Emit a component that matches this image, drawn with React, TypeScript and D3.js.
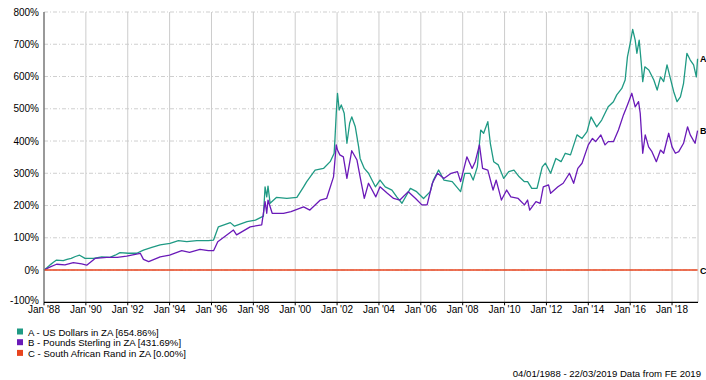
import React from "react";
import * as d3 from "d3";

const yTicks = [-100, 0, 100, 200, 300, 400, 500, 600, 700, 800];
const xTickYears = [1988, 1990, 1992, 1994, 1996, 1998, 2000, 2002, 2004, 2006, 2008, 2010, 2012, 2014, 2016, 2018];
const xTickLabels = ["Jan '88", "Jan '90", "Jan '92", "Jan '94", "Jan '96", "Jan '98", "Jan '00", "Jan '02", "Jan '04", "Jan '06", "Jan '08", "Jan '10", "Jan '12", "Jan '14", "Jan '16", "Jan '18"];

const seriesNames = ["A - US Dollars in ZA [654.86%]", "B - Pounds Sterling in ZA [431.69%]", "C - South African Rand in ZA [0.00%]"];
const seriesTags = ["A", "B", "C"];
const seriesColors = ["#1f9a84", "#6a1ab8", "#e8441e"];

// [decimal year, % growth]
const usdPoints: [number, number][] = [
  [1988.0, 0], [1988.15, 8], [1988.29, 16], [1988.45, 24], [1988.6, 31], [1988.92, 29],
  [1989.1, 33], [1989.3, 36], [1989.5, 42], [1989.7, 46], [1989.96, 36], [1990.36, 36],
  [1990.76, 41], [1991.15, 39], [1991.4, 46], [1991.63, 54], [1992.03, 52], [1992.43, 52],
  [1992.75, 62], [1993.15, 70], [1993.55, 78], [1994.02, 83], [1994.42, 91], [1994.82, 88],
  [1995.3, 91], [1995.85, 91], [1996.1, 93], [1996.33, 134], [1996.9, 147], [1997.1, 136],
  [1997.7, 150], [1998.1, 155], [1998.48, 167], [1998.56, 258], [1998.64, 227], [1998.7, 260],
  [1998.8, 207], [1999.1, 225], [1999.6, 222], [2000.08, 225], [2000.4, 258], [2000.55, 274],
  [2000.95, 310], [2001.35, 315], [2001.67, 336], [2001.86, 362], [2001.9, 408], [2001.96, 486],
  [2002.02, 548], [2002.1, 496], [2002.2, 512], [2002.34, 486], [2002.47, 393], [2002.6, 455],
  [2002.7, 475], [2002.87, 444], [2003.03, 382], [2003.1, 346], [2003.3, 315], [2003.5, 300],
  [2003.83, 258], [2004.05, 279], [2004.3, 258], [2004.62, 248], [2004.85, 227], [2005.1, 207],
  [2005.5, 253], [2005.8, 243], [2006.13, 222], [2006.45, 243], [2006.6, 279], [2006.85, 310],
  [2007.1, 279], [2007.5, 274], [2007.9, 243], [2008.1, 300], [2008.35, 300], [2008.5, 279],
  [2008.7, 320], [2008.86, 434], [2009.0, 424], [2009.2, 460], [2009.32, 393], [2009.48, 336],
  [2009.7, 326], [2009.96, 284], [2010.2, 305], [2010.45, 310], [2010.7, 289], [2010.95, 274],
  [2011.1, 274], [2011.3, 253], [2011.55, 253], [2011.8, 320], [2011.95, 331], [2012.2, 300],
  [2012.45, 346], [2012.7, 336], [2012.9, 362], [2013.15, 357], [2013.46, 419], [2013.7, 408],
  [2013.94, 429], [2014.13, 475], [2014.4, 444], [2014.64, 465], [2014.95, 506], [2015.2, 522],
  [2015.36, 543], [2015.6, 563], [2015.76, 589], [2015.87, 661], [2016.0, 703], [2016.12, 746],
  [2016.24, 713], [2016.32, 672], [2016.43, 713], [2016.53, 641], [2016.6, 584], [2016.7, 630],
  [2016.89, 620], [2017.13, 589], [2017.29, 558], [2017.45, 599], [2017.6, 584], [2017.76, 636],
  [2017.92, 594], [2018.08, 553], [2018.24, 522], [2018.4, 537], [2018.55, 579], [2018.71, 672],
  [2018.87, 651], [2019.03, 636], [2019.16, 599], [2019.22, 655],
];

const gbpPoints: [number, number][] = [
  [1988.0, 0], [1988.3, 10], [1988.6, 18], [1989.0, 16], [1989.4, 23], [1989.8, 19],
  [1990.04, 15], [1990.44, 36], [1991.0, 39], [1991.5, 39], [1991.95, 43], [1992.3, 48],
  [1992.6, 52], [1992.75, 33], [1993.0, 26], [1993.55, 41], [1994.0, 46], [1994.58, 60],
  [1994.95, 55], [1995.45, 64], [1995.85, 60], [1996.1, 60], [1996.3, 88], [1997.05, 124],
  [1997.2, 109], [1997.85, 134], [1998.4, 140], [1998.56, 212], [1998.64, 176], [1998.7, 217],
  [1998.9, 176], [1999.44, 176], [1999.8, 181], [2000.4, 196], [2000.7, 186], [2001.2, 217],
  [2001.5, 222], [2001.83, 289], [2001.96, 388], [2002.02, 372], [2002.13, 357], [2002.3, 351],
  [2002.47, 284], [2002.7, 370], [2002.95, 341], [2003.1, 289], [2003.3, 222], [2003.5, 269],
  [2003.85, 227], [2004.05, 258], [2004.4, 238], [2004.7, 222], [2005.0, 217], [2005.4, 243],
  [2005.75, 222], [2006.05, 202], [2006.3, 202], [2006.55, 269], [2006.8, 300], [2007.1, 284],
  [2007.45, 300], [2007.75, 305], [2007.9, 274], [2008.2, 351], [2008.45, 315], [2008.6, 336],
  [2008.8, 388], [2008.95, 315], [2009.2, 310], [2009.45, 248], [2009.6, 279], [2009.85, 217],
  [2010.1, 248], [2010.3, 227], [2010.65, 222], [2010.95, 202], [2011.1, 217], [2011.2, 186],
  [2011.5, 212], [2011.7, 207], [2011.85, 258], [2012.1, 264], [2012.2, 238], [2012.55, 258],
  [2012.8, 269], [2013.1, 300], [2013.3, 269], [2013.5, 315], [2013.7, 331], [2014.0, 388],
  [2014.2, 408], [2014.35, 398], [2014.6, 419], [2014.8, 388], [2014.95, 398], [2015.2, 398],
  [2015.44, 434], [2015.68, 481], [2015.87, 512], [2016.08, 548], [2016.24, 506], [2016.4, 522],
  [2016.48, 486], [2016.6, 362], [2016.72, 419], [2016.88, 382], [2017.04, 367], [2017.25, 336],
  [2017.45, 372], [2017.6, 362], [2017.84, 424], [2018.0, 382], [2018.16, 362], [2018.32, 367],
  [2018.55, 393], [2018.74, 444], [2018.87, 419], [2019.1, 393], [2019.22, 432],
];

const zarPoints: [number, number][] = [
  [1988.0, 0], [2019.22, 0],
];

const footerText = "04/01/1988 - 22/03/2019 Data from FE 2019";

export default function App() {
  const W = 706, H = 380;
  const left = 44, right = 698, top = 12, bottom = 302.3;
  const x = d3.scaleLinear().domain([1988, 2019.24]).range([left, right]);
  const y = d3.scaleLinear().domain([-100, 800]).range([bottom, top]);
  const line = d3.line<[number, number]>().x(d => x(d[0])).y(d => y(d[1]));
  const series = [usdPoints, gbpPoints, zarPoints];
  const font = "'Liberation Sans', Arial, sans-serif";

  return (
    <svg width={W} height={H} style={{ position: "absolute", left: 0, top: 0, background: "#fff" }} fontFamily={font}>
      {/* horizontal dashed grid */}
      {yTicks.filter(t => t !== -100).map(t => (
        <line key={"h" + t} x1={left} x2={right} y1={y(t)} y2={y(t)} stroke="#cfcfcf" strokeWidth={1} strokeDasharray="4,2,1,2" />
      ))}
      {/* vertical grid */}
      {xTickYears.filter(t => t !== 1988).map(t => (
        <line key={"v" + t} x1={x(t)} x2={x(t)} y1={top} y2={bottom} stroke="#cccccc" strokeWidth={1} />
      ))}
      <line x1={right} x2={right} y1={top} y2={bottom} stroke="#cccccc" strokeWidth={1} />
      {/* series */}
      {series.map((s, i) => (
        <path key={"s" + i} d={line(s) || ""} fill="none" stroke={seriesColors[i]} strokeWidth={i === 2 ? 1.5 : 1.3} strokeLinejoin="round" />
      ))}
      {/* axes */}
      <line x1={left} x2={left} y1={top} y2={bottom} stroke="#777" strokeWidth={1.5} />
      <line x1={left} x2={right} y1={bottom} y2={bottom} stroke="#000" strokeWidth={1.2} />
      {xTickYears.map(t => (
        <line key={"xt" + t} x1={x(t)} x2={x(t)} y1={bottom} y2={bottom + 3} stroke="#000" strokeWidth={1} />
      ))}
      {/* y labels */}
      {yTicks.map(t => (
        <text key={"yl" + t} x={39} y={y(t) + (t === -100 ? 1.8 : 3.5)} fontSize={10} textAnchor="end" fill="#000">{t + "%"}</text>
      ))}
      {/* x labels */}
      {xTickYears.map((t, i) => (
        <text key={"xl" + t} x={x(t)} y={bottom + 10.8} fontSize={10} textAnchor="middle" fill="#000">{xTickLabels[i]}</text>
      ))}
      {/* end tags */}
      {series.map((s, i) => (
        <text key={"tag" + i} x={right + 2} y={y(s[s.length - 1][1]) + 3.5} fontSize={9} fontWeight="bold" fill="#000">{seriesTags[i]}</text>
      ))}
      {/* legend */}
      {seriesNames.map((n, i) => (
        <g key={"lg" + i} transform={`translate(17, ${328.5 + i * 10.7})`}>
          <rect x={0} y={0} width={6} height={6} fill={seriesColors[i]} />
          <text x={11} y={7} fontSize={9.6} fill="#000">{n}</text>
        </g>
      ))}
      <text x={701} y={377} fontSize={9.6} textAnchor="end" fill="#000">{footerText}</text>
    </svg>
  );
}
